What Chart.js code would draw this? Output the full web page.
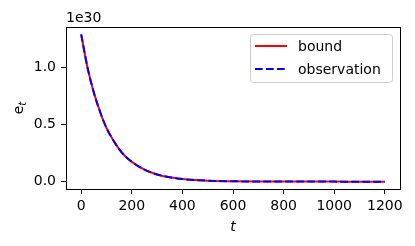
<!DOCTYPE html>
<html>
<head>
<meta charset="utf-8">
<script src="https://cdn.jsdelivr.net/npm/chart.js@4/dist/chart.umd.min.js"></script>
<style>
  body { margin: 0; background: #fff; }
  canvas { display: block; }
</style>
</head>
<body>
<canvas id="chart" width="415" height="246"></canvas>
<script>
// values, in units of 1e30
const tValues = [0, 25, 50, 75, 100, 125, 150, 175, 200, 250, 300, 350, 400, 450, 500, 600, 700, 800, 900, 1000, 1100, 1200];
const boundValues = [1.29, 1.00, 0.78, 0.61, 0.47, 0.37, 0.285, 0.22, 0.173, 0.105, 0.063, 0.038, 0.023, 0.014, 0.0085, 0.003, 0.001, 0.0004, 0.0002, 0.0001, 0.00003, 0.00001];
const observationValues = [1.29, 1.00, 0.78, 0.61, 0.47, 0.37, 0.285, 0.22, 0.173, 0.105, 0.063, 0.038, 0.023, 0.014, 0.0085, 0.003, 0.001, 0.0004, 0.0002, 0.0001, 0.00003, 0.00001];
const xTicks = [0, 200, 400, 600, 800, 1000, 1200];
const yTicks = [0, 0.5, 1.0];
const seriesLabels = ['bound', 'observation'];
const offsetText = '1e30';

const FONT = 'DejaVu Sans';
const FS = 14;

const extras = {
    id: 'extras',
    afterDraw(chart) {
        const ctx = chart.ctx;
        const a = chart.chartArea;
        ctx.save();
        // frame
        ctx.strokeStyle = '#000';
        ctx.lineWidth = 1;
        ctx.strokeRect(Math.round(a.left) + 0.5, Math.round(a.top) + 0.5, Math.round(a.right - a.left), Math.round(a.bottom - a.top));

        ctx.fillStyle = '#000';
        ctx.font = FS + 'px "' + FONT + '"';
        ctx.textBaseline = 'alphabetic';
        ctx.textAlign = 'left';
        ctx.fillText(offsetText, a.left, a.top - 5);

        // x label
        ctx.font = 'italic ' + FS + 'px "' + FONT + '"';
        ctx.textAlign = 'center';
        ctx.fillText('t', (a.left + a.right) / 2, 231);

        // y label e_t
        ctx.save();
        ctx.translate(23, (a.top + a.bottom) / 2);
        ctx.rotate(-Math.PI / 2);
        ctx.font = FS + 'px "' + FONT + '"';
        ctx.textAlign = 'left';
        const ew = ctx.measureText('e').width;
        ctx.font = 'italic 10px "' + FONT + '"';
        const tw = ctx.measureText('t').width;
        const start = -(ew + tw) / 2;
        ctx.font = FS + 'px "' + FONT + '"';
        ctx.fillText('e', start, 0);
        ctx.font = 'italic 10px "' + FONT + '"';
        ctx.fillText('t', start + ew, 3);
        ctx.restore();

        // legend
        const lx = 250, ly = 34, lw = 142, lh = 48;
        ctx.beginPath();
        ctx.roundRect(lx + 0.5, ly + 0.5, lw, lh, 3);
        ctx.fillStyle = 'rgba(255,255,255,0.8)';
        ctx.fill();
        ctx.strokeStyle = '#cccccc';
        ctx.lineWidth = 1;
        ctx.stroke();

        const rows = [
            { label: seriesLabels[0], color: '#ff0000', dash: [] },
            { label: seriesLabels[1], color: '#0000ff', dash: [7.7, 3.3] }
        ];
        rows.forEach((r, i) => {
            const y = ly + 12 + i * 23;
            ctx.beginPath();
            ctx.setLineDash(r.dash);
            ctx.strokeStyle = r.color;
            ctx.lineWidth = 2;
            ctx.moveTo(255, y);
            ctx.lineTo(287, y);
            ctx.stroke();
            ctx.setLineDash([]);
            ctx.fillStyle = '#000';
            ctx.font = FS + 'px "' + FONT + '"';
            ctx.textAlign = 'left';
            ctx.textBaseline = 'middle';
            ctx.fillText(r.label, 298, y + 1);
        });
        ctx.restore();
    }
};

new Chart(document.getElementById('chart').getContext('2d'), {
    type: 'line',
    data: {
        datasets: [{
            label: seriesLabels[0],
            data: tValues.map((t, i) => ({ x: t, y: boundValues[i] })),
            borderColor: '#ff0000',
            borderWidth: 2,
            pointRadius: 0,
            order: 2,
            cubicInterpolationMode: 'monotone'
        }, {
            label: seriesLabels[1],
            data: tValues.map((t, i) => ({ x: t, y: observationValues[i] })),
            borderColor: '#0000ff',
            borderWidth: 2,
            borderDash: [7.7, 3.3],
            pointRadius: 0,
            order: 1,
            cubicInterpolationMode: 'monotone'
        }]
    },
    options: {
        responsive: false,
        animation: false,
        layout: { padding: { top: 27, right: 15, left: 0, bottom: 0 } },
        plugins: { legend: { display: false }, tooltip: { enabled: false } },
        scales: {
            x: {
                type: 'linear',
                min: -60,
                max: 1260,
                afterBuildTicks: s => { s.ticks = xTicks.map(v => ({ value: v })); },
                afterFit: s => { s.height = 57; },
                grid: { drawOnChartArea: false, drawTicks: true, tickLength: 5, color: '#000' },
                border: { display: false },
                ticks: { color: '#000', font: { family: FONT, size: FS }, padding: 4, maxRotation: 0, callback: v => String(v) }
            },
            y: {
                min: -0.0645,
                max: 1.3545,
                afterBuildTicks: s => { s.ticks = yTicks.map(v => ({ value: v })); },
                afterFit: s => { s.width = 66; },
                grid: { drawOnChartArea: false, drawTicks: true, tickLength: 5, color: '#000' },
                border: { display: false },
                ticks: { color: '#000', font: { family: FONT, size: FS }, padding: 5, callback: v => v.toFixed(1) }
            }
        }
    },
    plugins: [extras]
});
</script>
</body>
</html>
